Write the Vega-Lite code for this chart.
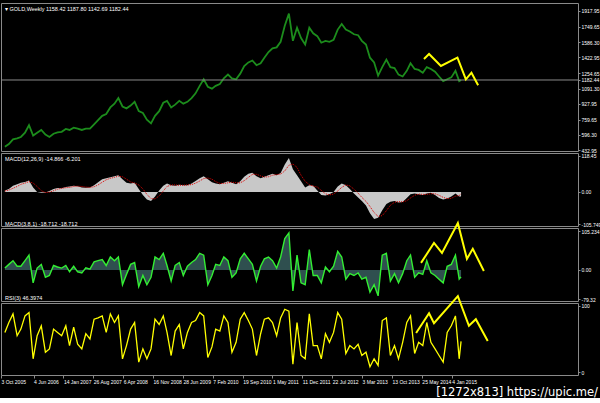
{
"$schema": "https://vega.github.io/schema/vega-lite/v6.json",
"background": "black",
"padding": {"left": 0, "top": 2, "right": 0, "bottom": 0},
"bounds": "flush",
"spacing": 2,
"title": {"text": "[1272x813] https://upic.me/", "orient": "bottom", "anchor": "end", "fontSize": 11.5, "color": "white", "font": "DejaVu Sans", "fontWeight": "normal", "offset": 2, "dx": 20},
"config": {
  "view": {"stroke": "#8a8a8a", "strokeWidth": 1},
  "axis": {"labelColor": "white", "labelFont": "Liberation Sans", "labelFontSize": 5, "tickColor": "#8a8a8a", "tickSize": 2, "domain": false, "grid": false, "title": null, "labelOverlap": false, "labelFlush": false, "labelPadding": 1, "tickCount": 40},
  "title": {"anchor": "start", "frame": "group", "orient": "top", "offset": -9, "fontSize": 5.5, "fontWeight": "normal", "color": "white", "font": "Liberation Sans", "dx": 4}
},
"datasets": {
"w": [
{"date":"2005-11-01","price":470,"macd":5,"signal":3,"fast":5,"rsi":60},
{"date":"2005-12-01","price":500,"macd":10,"signal":6,"fast":15,"rsi":75},
{"date":"2006-01-01","price":550,"macd":20,"signal":12,"fast":25,"rsi":88},
{"date":"2006-02-01","price":560,"macd":25,"signal":18,"fast":10,"rsi":55},
{"date":"2006-03-01","price":575,"macd":30,"signal":25,"fast":10,"rsi":65},
{"date":"2006-04-01","price":620,"macd":33,"signal":29,"fast":25,"rsi":85},
{"date":"2006-05-01","price":700,"macd":38,"signal":34,"fast":40,"rsi":90},
{"date":"2006-06-01","price":590,"macd":15,"signal":29,"fast":-35,"rsi":20},
{"date":"2006-07-01","price":620,"macd":0,"signal":18,"fast":5,"rsi":55},
{"date":"2006-08-01","price":650,"macd":-3,"signal":4,"fast":15,"rsi":70},
{"date":"2006-09-01","price":600,"macd":-2,"signal":-2,"fast":-20,"rsi":30},
{"date":"2006-10-01","price":575,"macd":3,"signal":-1,"fast":-15,"rsi":35},
{"date":"2006-11-01","price":610,"macd":10,"signal":4,"fast":12,"rsi":65},
{"date":"2006-12-01","price":625,"macd":13,"signal":9,"fast":8,"rsi":60},
{"date":"2007-01-01","price":630,"macd":12,"signal":12,"fast":5,"rsi":55},
{"date":"2007-02-01","price":660,"macd":16,"signal":14,"fast":12,"rsi":70},
{"date":"2007-03-01","price":650,"macd":18,"signal":15,"fast":-5,"rsi":40},
{"date":"2007-04-01","price":675,"macd":20,"signal":18,"fast":10,"rsi":68},
{"date":"2007-05-01","price":665,"macd":19,"signal":19,"fast":-5,"rsi":42},
{"date":"2007-06-01","price":650,"macd":15,"signal":18,"fast":-8,"rsi":35},
{"date":"2007-07-01","price":665,"macd":14,"signal":16,"fast":6,"rsi":58},
{"date":"2007-08-01","price":665,"macd":15,"signal":15,"fast":2,"rsi":50},
{"date":"2007-09-01","price":710,"macd":22,"signal":17,"fast":22,"rsi":80},
{"date":"2007-10-01","price":755,"macd":32,"signal":23,"fast":25,"rsi":82},
{"date":"2007-11-01","price":800,"macd":42,"signal":32,"fast":28,"rsi":85},
{"date":"2007-12-01","price":820,"macd":45,"signal":40,"fast":12,"rsi":60},
{"date":"2008-01-01","price":890,"macd":48,"signal":45,"fast":35,"rsi":88},
{"date":"2008-02-01","price":930,"macd":52,"signal":48,"fast":25,"rsi":75},
{"date":"2008-03-01","price":990,"macd":55,"signal":52,"fast":35,"rsi":85},
{"date":"2008-04-01","price":900,"macd":42,"signal":50,"fast":-40,"rsi":20},
{"date":"2008-05-01","price":880,"macd":30,"signal":42,"fast":-12,"rsi":40},
{"date":"2008-06-01","price":910,"macd":28,"signal":33,"fast":15,"rsi":65},
{"date":"2008-07-01","price":950,"macd":30,"signal":29,"fast":20,"rsi":75},
{"date":"2008-08-01","price":850,"macd":10,"signal":23,"fast":-45,"rsi":15},
{"date":"2008-09-01","price":830,"macd":-10,"signal":10,"fast":-15,"rsi":35},
{"date":"2008-10-01","price":760,"macd":-25,"signal":-8,"fast":-40,"rsi":20},
{"date":"2008-11-01","price":720,"macd":-30,"signal":-22,"fast":-20,"rsi":35},
{"date":"2008-12-01","price":800,"macd":-15,"signal":-23,"fast":35,"rsi":80},
{"date":"2009-01-01","price":850,"macd":5,"signal":-13,"fast":28,"rsi":72},
{"date":"2009-02-01","price":940,"macd":20,"signal":3,"fast":45,"rsi":85},
{"date":"2009-03-01","price":960,"macd":28,"signal":18,"fast":12,"rsi":60},
{"date":"2009-04-01","price":890,"macd":22,"signal":23,"fast":-30,"rsi":25},
{"date":"2009-05-01","price":920,"macd":20,"signal":23,"fast":12,"rsi":62},
{"date":"2009-06-01","price":960,"macd":24,"signal":22,"fast":20,"rsi":72},
{"date":"2009-07-01","price":930,"macd":22,"signal":22,"fast":-15,"rsi":35},
{"date":"2009-08-01","price":950,"macd":22,"signal":23,"fast":10,"rsi":60},
{"date":"2009-09-01","price":990,"macd":28,"signal":24,"fast":20,"rsi":75},
{"date":"2009-10-01","price":1040,"macd":36,"signal":29,"fast":28,"rsi":78},
{"date":"2009-11-01","price":1120,"macd":45,"signal":36,"fast":45,"rsi":90},
{"date":"2009-12-01","price":1190,"macd":52,"signal":44,"fast":40,"rsi":85},
{"date":"2010-01-01","price":1110,"macd":42,"signal":46,"fast":-40,"rsi":22},
{"date":"2010-02-01","price":1090,"macd":32,"signal":42,"fast":-15,"rsi":38},
{"date":"2010-03-01","price":1120,"macd":28,"signal":34,"fast":15,"rsi":65},
{"date":"2010-04-01","price":1140,"macd":25,"signal":28,"fast":12,"rsi":62},
{"date":"2010-05-01","price":1200,"macd":30,"signal":28,"fast":35,"rsi":85},
{"date":"2010-06-01","price":1240,"macd":35,"signal":30,"fast":25,"rsi":75},
{"date":"2010-07-01","price":1200,"macd":30,"signal":32,"fast":-20,"rsi":30},
{"date":"2010-08-01","price":1190,"macd":25,"signal":30,"fast":-8,"rsi":45},
{"date":"2010-09-01","price":1250,"macd":35,"signal":30,"fast":30,"rsi":80},
{"date":"2010-10-01","price":1330,"macd":50,"signal":37,"fast":45,"rsi":90},
{"date":"2010-11-01","price":1370,"macd":60,"signal":48,"fast":30,"rsi":78},
{"date":"2010-12-01","price":1390,"macd":63,"signal":58,"fast":15,"rsi":65},
{"date":"2011-01-01","price":1340,"macd":52,"signal":58,"fast":-30,"rsi":25},
{"date":"2011-02-01","price":1360,"macd":45,"signal":53,"fast":10,"rsi":58},
{"date":"2011-03-01","price":1420,"macd":50,"signal":49,"fast":30,"rsi":80},
{"date":"2011-04-01","price":1480,"macd":55,"signal":50,"fast":35,"rsi":82},
{"date":"2011-05-01","price":1520,"macd":60,"signal":55,"fast":25,"rsi":75},
{"date":"2011-06-01","price":1530,"macd":55,"signal":57,"fast":5,"rsi":55},
{"date":"2011-07-01","price":1590,"macd":62,"signal":59,"fast":35,"rsi":82},
{"date":"2011-08-01","price":1760,"macd":90,"signal":69,"fast":85,"rsi":95},
{"date":"2011-09-01","price":1890,"macd":112,"signal":88,"fast":100,"rsi":92},
{"date":"2011-10-01","price":1600,"macd":75,"signal":92,"fast":-57,"rsi":12},
{"date":"2011-11-01","price":1740,"macd":55,"signal":81,"fast":40,"rsi":75},
{"date":"2011-12-01","price":1630,"macd":35,"signal":55,"fast":-35,"rsi":25},
{"date":"2012-01-01","price":1560,"macd":15,"signal":35,"fast":-40,"rsi":20},
{"date":"2012-02-01","price":1740,"macd":22,"signal":24,"fast":55,"rsi":88},
{"date":"2012-03-01","price":1680,"macd":20,"signal":19,"fast":-15,"rsi":40},
{"date":"2012-04-01","price":1650,"macd":5,"signal":16,"fast":-15,"rsi":40},
{"date":"2012-05-01","price":1580,"macd":-10,"signal":5,"fast":-35,"rsi":20},
{"date":"2012-06-01","price":1600,"macd":-12,"signal":-6,"fast":8,"rsi":58},
{"date":"2012-07-01","price":1590,"macd":-8,"signal":-10,"fast":-5,"rsi":45},
{"date":"2012-08-01","price":1610,"macd":0,"signal":-7,"fast":10,"rsi":60},
{"date":"2012-09-01","price":1720,"macd":18,"signal":3,"fast":50,"rsi":90},
{"date":"2012-10-01","price":1780,"macd":28,"signal":15,"fast":35,"rsi":80},
{"date":"2012-11-01","price":1720,"macd":22,"signal":23,"fast":-25,"rsi":28},
{"date":"2012-12-01","price":1700,"macd":10,"signal":20,"fast":-10,"rsi":40},
{"date":"2013-01-01","price":1670,"macd":-5,"signal":9,"fast":-15,"rsi":35},
{"date":"2013-02-01","price":1660,"macd":-18,"signal":-4,"fast":-8,"rsi":42},
{"date":"2013-03-01","price":1600,"macd":-30,"signal":-18,"fast":-25,"rsi":25},
{"date":"2013-04-01","price":1560,"macd":-45,"signal":-31,"fast":-20,"rsi":30},
{"date":"2013-05-01","price":1420,"macd":-70,"signal":-48,"fast":-60,"rsi":8},
{"date":"2013-06-01","price":1370,"macd":-89,"signal":-68,"fast":-40,"rsi":20},
{"date":"2013-07-01","price":1230,"macd":-85,"signal":-81,"fast":-70,"rsi":10},
{"date":"2013-08-01","price":1320,"macd":-60,"signal":-78,"fast":40,"rsi":78},
{"date":"2013-09-01","price":1400,"macd":-40,"signal":-62,"fast":45,"rsi":82},
{"date":"2013-10-01","price":1320,"macd":-32,"signal":-44,"fast":-30,"rsi":25},
{"date":"2013-11-01","price":1310,"macd":-30,"signal":-34,"fast":-10,"rsi":40},
{"date":"2013-12-01","price":1240,"macd":-35,"signal":-32,"fast":-35,"rsi":20},
{"date":"2014-01-01","price":1220,"macd":-33,"signal":-33,"fast":-10,"rsi":45},
{"date":"2014-02-01","price":1280,"macd":-20,"signal":-29,"fast":25,"rsi":75},
{"date":"2014-03-01","price":1360,"macd":-8,"signal":-20,"fast":40,"rsi":85},
{"date":"2014-04-01","price":1300,"macd":-5,"signal":-11,"fast":-20,"rsi":28},
{"date":"2014-05-01","price":1290,"macd":-8,"signal":-7,"fast":-8,"rsi":45},
{"date":"2014-06-01","price":1260,"macd":-10,"signal":-8,"fast":-12,"rsi":40},
{"date":"2014-07-01","price":1320,"macd":-5,"signal":-8,"fast":25,"rsi":75},
{"date":"2014-08-01","price":1300,"macd":-3,"signal":-6,"fast":-8,"rsi":45},
{"date":"2014-09-01","price":1270,"macd":-10,"signal":-6,"fast":-15,"rsi":35},
{"date":"2014-10-01","price":1220,"macd":-20,"signal":-11,"fast":-25,"rsi":25},
{"date":"2014-11-01","price":1170,"macd":-25,"signal":-18,"fast":-35,"rsi":15},
{"date":"2014-12-01","price":1190,"macd":-22,"signal":-22,"fast":10,"rsi":60},
{"date":"2015-01-01","price":1210,"macd":-15,"signal":-21,"fast":15,"rsi":70},
{"date":"2015-02-01","price":1280,"macd":-5,"signal":-14,"fast":40,"rsi":85},
{"date":"2015-03-01","price":1170,"macd":-15,"signal":-12,"fast":-25,"rsi":20},
{"date":"2015-03-15","price":1182.44,"macd":-14.866,"signal":-6.201,"fast":-18.712,"rsi":46.3974}
],
"pa": [
{"order":1,"date":"2014-06-10","value":1406},
{"order":2,"date":"2014-07-18","value":1460},
{"order":3,"date":"2014-10-15","value":1332},
{"order":4,"date":"2015-01-13","value":1396},
{"order":5,"date":"2015-02-16","value":1420},
{"order":6,"date":"2015-04-20","value":1190},
{"order":7,"date":"2015-06-01","value":1260},
{"order":8,"date":"2015-07-21","value":1126}
],
"fa": [
{"order":1,"date":"2014-05-19","value":19},
{"order":2,"date":"2014-08-24","value":73},
{"order":3,"date":"2014-10-23","value":46},
{"order":4,"date":"2015-02-19","value":127},
{"order":5,"date":"2015-04-28","value":30},
{"order":6,"date":"2015-06-11","value":57},
{"order":7,"date":"2015-09-02","value":-3}
],
"ra": [
{"order":1,"date":"2014-04-12","value":59},
{"order":2,"date":"2014-07-18","value":89},
{"order":3,"date":"2014-08-24","value":74},
{"order":4,"date":"2015-02-19","value":115},
{"order":5,"date":"2015-05-13","value":70},
{"order":6,"date":"2015-07-04","value":80},
{"order":7,"date":"2015-10-01","value":47}
]
},
"vconcat": [
{
  "width": 577, "height": 148,
  "title": {"text": "▾ GOLD,Weekly  1158.42 1187.80 1142.69 1182.44"},
  "layer": [
    {"data": {"name": "w"}, "mark": {"type": "line", "color": "#1c8c1c", "strokeWidth": 1.8},
     "encoding": {
       "x": {"field": "date", "type": "temporal", "scale": {"type": "utc", "domain": [{"year":2005,"month":10,"date":3,"utc":true},{"year":2017,"month":8,"date":8,"utc":true}]}, "axis": null},
       "y": {"field": "price", "type": "quantitative", "scale": {"domain": [425.5, 2003.2], "nice": false, "zero": false},
             "axis": {"orient": "right", "tickCount": 40, "values": [1917.95, 1749.65, 1586.30, 1422.95, 1254.65, 1182.44, 1091.30, 927.95, 759.65, 596.30, 432.95], "labelExpr": "format(datum.value, '.2f')", "labelOverlap": false}}
     }},
    {"data": {"values": [{}]}, "mark": {"type": "rule", "color": "#8a8a8a", "strokeWidth": 1}, "encoding": {"y": {"datum": 1182.44}}},
    {"data": {"name": "pa"}, "mark": {"type": "line", "color": "#ffff00", "strokeWidth": 2},
     "encoding": {"x": {"field": "date", "type": "temporal"}, "y": {"field": "value", "type": "quantitative"}, "order": {"field": "order"}}}
  ]
},
{
  "width": 577, "height": 73,
  "title": {"text": "MACD(12,26,9) -14.866 -6.201"},
  "layer": [
    {"data": {"name": "w"}, "mark": {"type": "area", "color": "#c8c8c8"},
     "encoding": {
       "x": {"field": "date", "type": "temporal", "scale": {"type": "utc", "domain": [{"year":2005,"month":10,"date":3,"utc":true},{"year":2017,"month":8,"date":8,"utc":true}]}, "axis": null},
       "y": {"field": "macd", "type": "quantitative", "stack": null, "scale": {"domain": [-112.3, 128.3], "nice": false, "zero": false},
             "axis": {"orient": "right", "tickCount": 40, "values": [118.45, 0, -105.749], "labelOverlap": false, "labelExpr": "datum.value < -100 ? '-105.749' : format(datum.value, '.2f')"}},
       "y2": {"datum": 0}
     }},
    {"data": {"name": "w"}, "mark": {"type": "line", "color": "#e00000", "strokeWidth": 1, "strokeDash": [1, 1]},
     "encoding": {"x": {"field": "date", "type": "temporal"}, "y": {"field": "signal", "type": "quantitative"}}}
  ]
},
{
  "width": 577, "height": 73,
  "title": {"text": "MACD(3,8,1) -18.712 -18.712"},
  "layer": [
    {"data": {"name": "w"}, "mark": {"type": "area", "color": "#2f4f4f"},
     "encoding": {
       "x": {"field": "date", "type": "temporal", "scale": {"type": "utc", "domain": [{"year":2005,"month":10,"date":3,"utc":true},{"year":2017,"month":8,"date":8,"utc":true}]}, "axis": null},
       "y": {"field": "fast", "type": "quantitative", "stack": null, "scale": {"domain": [-84, 113.4], "nice": false, "zero": false},
             "axis": {"orient": "right", "tickCount": 40, "values": [105.234, 0, -79.32], "labelOverlap": false, "labelExpr": "datum.value > 100 ? '105.234' : datum.value < -70 ? '-79.32' : '0.00'"}},
       "y2": {"datum": 0}
     }},
    {"data": {"name": "w"}, "mark": {"type": "line", "color": "#33ee33", "strokeWidth": 1.4},
     "encoding": {"x": {"field": "date", "type": "temporal"}, "y": {"field": "fast", "type": "quantitative"}}},
    {"data": {"name": "fa"}, "mark": {"type": "line", "color": "#ffff00", "strokeWidth": 2, "clip": false},
     "encoding": {"x": {"field": "date", "type": "temporal"}, "y": {"field": "value", "type": "quantitative"}, "order": {"field": "order"}}}
  ]
},
{
  "width": 577, "height": 72,
  "title": {"text": "RSI(3) 46.3974"},
  "layer": [
    {"data": {"name": "w"}, "mark": {"type": "line", "color": "#ffff00", "strokeWidth": 1.3},
     "encoding": {
       "x": {"field": "date", "type": "temporal", "scale": {"type": "utc", "domain": [{"year":2005,"month":10,"date":3,"utc":true},{"year":2017,"month":8,"date":8,"utc":true}]},
             "axis": {"orient": "bottom", "tickCount": 40, "values": [{"year":2005,"month":10,"date":3,"utc":true},{"year":2006,"month":6,"date":4,"utc":true},{"year":2007,"month":1,"date":14,"utc":true},{"year":2007,"month":8,"date":26,"utc":true},{"year":2008,"month":4,"date":6,"utc":true},{"year":2008,"month":11,"date":16,"utc":true},{"year":2009,"month":6,"date":28,"utc":true},{"year":2010,"month":2,"date":7,"utc":true},{"year":2010,"month":9,"date":19,"utc":true},{"year":2011,"month":5,"date":1,"utc":true},{"year":2011,"month":12,"date":11,"utc":true},{"year":2012,"month":7,"date":22,"utc":true},{"year":2013,"month":3,"date":3,"utc":true},{"year":2013,"month":10,"date":13,"utc":true},{"year":2014,"month":5,"date":25,"utc":true},{"year":2015,"month":1,"date":4,"utc":true}],
                      "labelExpr": "utcFormat(datum.value, '%-d %b %Y')", "labelOverlap": false, "labelAlign": "left", "labelBaseline": "top", "labelPadding": 1, "tickSize": 3}},
       "y": {"field": "rsi", "type": "quantitative", "scale": {"domain": [-4.5, 104.5], "nice": false, "zero": false},
             "axis": {"orient": "right", "tickCount": 40, "values": [100, 0], "labelOverlap": false, "labelExpr": "format(datum.value, 'd')"}}
     }},
    {"data": {"name": "ra"}, "mark": {"type": "line", "color": "#ffff00", "strokeWidth": 2, "clip": false},
     "encoding": {"x": {"field": "date", "type": "temporal"}, "y": {"field": "value", "type": "quantitative"}, "order": {"field": "order"}}}
  ]
}
]
}
